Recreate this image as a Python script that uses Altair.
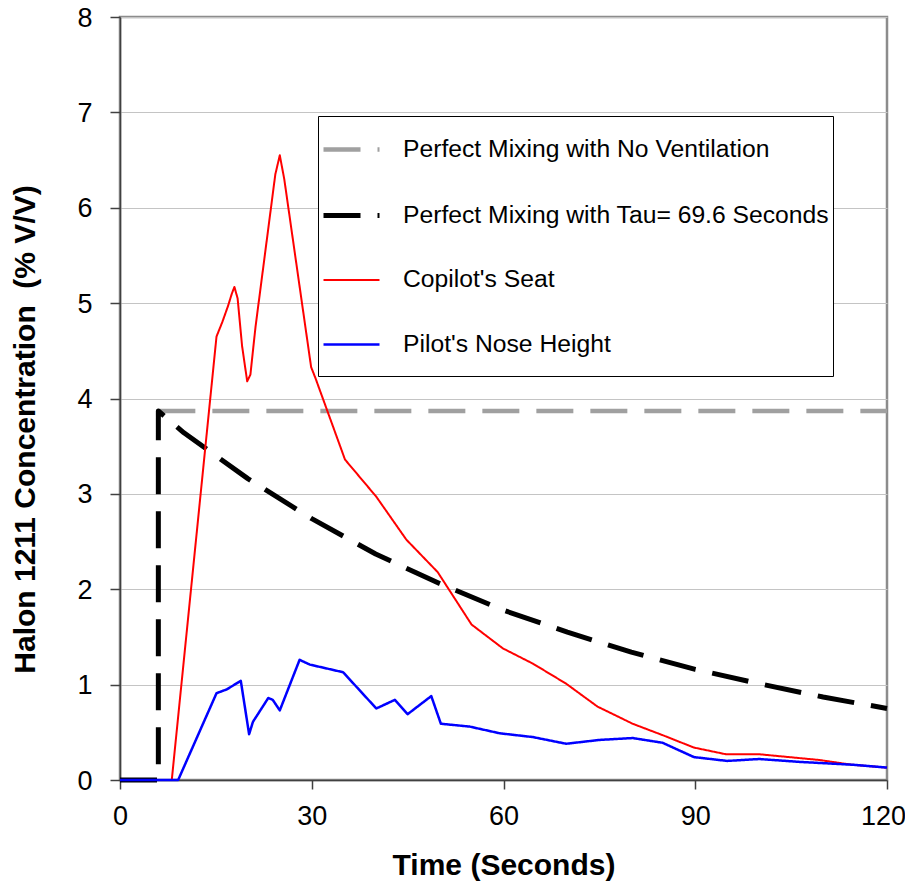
import altair as alt
import pandas as pd

# ---- data ----
series_names = [
    "Perfect Mixing with No Ventilation",
    "Perfect Mixing with Tau= 69.6 Seconds",
    "Copilot's Seat",
    "Pilot's Nose Height",
]

noVent_t = [6, 120]
noVent_y = [3.87, 3.87]

tau_t = [0, 6, 6, 10, 20, 30, 40, 50, 60, 70, 80, 90, 100, 110, 120]
tau_y = [0, 0, 3.87, 3.64, 3.16, 2.74, 2.37, 2.06, 1.78, 1.55, 1.34, 1.16, 1.01, 0.87, 0.75]

copilot_t = [0, 8.1, 15.1, 16.0, 16.9, 17.5, 17.9, 18.4, 19.1, 19.9, 20.4, 21.2, 24.3, 25.0, 25.7,
             29.9, 30.6, 35.2, 40.1, 44.8, 49.7, 55.0, 59.9, 64.6, 69.8, 74.7, 80.2, 84.9,
             89.8, 94.8, 100.0, 109.4, 114.5, 120]
copilot_y = [0, 0, 4.65, 4.80, 4.97, 5.10, 5.17, 5.05, 4.55, 4.18, 4.25, 4.75, 6.35, 6.55, 6.30,
             4.33, 4.21, 3.36, 2.97, 2.52, 2.18, 1.63, 1.38, 1.22, 1.01, 0.77, 0.59, 0.47,
             0.34, 0.27, 0.27, 0.21, 0.16, 0.13]

pilot_t = [0, 9.1, 15.1, 16.7, 18.9, 20.2, 20.8, 23.2, 23.9, 25.0, 28.1, 29.7, 34.9, 40.1, 43.0,
           45.0, 48.7, 50.2, 54.7, 59.4, 64.6, 69.8, 75.0, 80.2, 84.9, 89.8, 95.0, 100.0,
           106.3, 114.6, 120]
pilot_y = [0, 0, 0.91, 0.95, 1.04, 0.48, 0.61, 0.86, 0.84, 0.73, 1.26, 1.21, 1.13, 0.75, 0.84,
           0.69, 0.88, 0.59, 0.56, 0.49, 0.45, 0.38, 0.42, 0.44, 0.39, 0.24, 0.20, 0.22,
           0.19, 0.16, 0.13]

x_ticks = [0, 30, 60, 90, 120]
y_ticks = [0, 1, 2, 3, 4, 5, 6, 7, 8]

rows = []
for name, ts, ys in zip(series_names,
                        [noVent_t, tau_t, copilot_t, pilot_t],
                        [noVent_y, tau_y, copilot_y, pilot_y]):
    for i, (t, y) in enumerate(zip(ts, ys)):
        rows.append({"series": name, "t": t, "y": y, "idx": i})
df = pd.DataFrame(rows)

FONT = "Liberation Sans"

color = alt.Color(
    "series:N",
    scale=alt.Scale(domain=series_names,
                    range=["#a0a0a0", "#000000", "#ff0000", "#0000ff"]),
    legend=alt.Legend(title="\u00a0", titleOrient="bottom", titleFontSize=12,
                      titlePadding=6,
                      orient="none", legendX=198, legendY=99,
                      symbolType="stroke", symbolSize=3136, labelFont=FONT,
                      labelFontSize=24.7, labelColor="#000000", labelLimit=700,
                      labelOffset=21, rowPadding=23, padding=3,
                      strokeColor="#000000", fillColor="#ffffff"),
)
dash = alt.StrokeDash(
    "series:N",
    scale=alt.Scale(domain=series_names,
                    range=[[37, 17], [37, 17], [1, 0], [1, 0]]),
)
sw = alt.StrokeWidth(
    "series:N",
    scale=alt.Scale(type="ordinal", domain=series_names, range=[4.5, 5, 2, 2.5]),
)

x = alt.X("t:Q", scale=alt.Scale(domain=[0, 120], nice=False),
          axis=alt.Axis(values=x_ticks, title="Time (Seconds)", grid=False,
                        tickSize=9, labelPadding=14, labelFlush=False,
                        labelOffset={"condition": {"test": "datum.value == 120", "value": -4},
                                     "value": 0},
                        titleFontSize=30, titlePadding=21))
y = alt.Y("y:Q", scale=alt.Scale(domain=[0, 8], nice=False),
          axis=alt.Axis(values=y_ticks,
                        title="Halon 1211 Concentration\u00a0\u00a0(% V/V)",
                        grid=True, tickSize=10, labelPadding=18, titlePadding=36,
                        titleFontSize=30, titleY=412, labelOffset=1))

base = alt.Chart(df).mark_line(strokeCap="butt", strokeJoin="round").encode(
    x=x, y=y, color=color, strokeDash=dash, strokeWidth=sw, order="idx:Q"
)

layers = [base.transform_filter(alt.datum.series == s) for s in series_names]

chart = alt.layer(*layers).properties(
    width=767, height=763,
    autosize=alt.AutoSizeParams(type="none"),
    padding={"left": 112, "top": 9, "right": 18, "bottom": 104},
).configure_view(
    stroke="#8c8c8c", strokeWidth=2.5
).configure_axis(
    labelFont=FONT, labelFontSize=27, labelColor="#000000",
    titleFont=FONT, titleFontWeight="bold", titleColor="#000000",
    domainColor="#404040", domainWidth=1.5, tickColor="#404040", tickWidth=1.5,
    gridColor="#c4c4c4", gridWidth=1.2,
)

chart.save("out.html", embed_options={"renderer": "svg", "actions": False})
